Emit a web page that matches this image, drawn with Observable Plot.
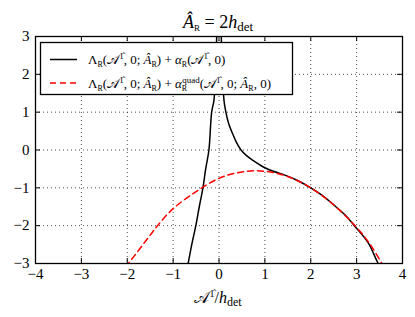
<!DOCTYPE html>
<html><head><meta charset="utf-8">
<script src="https://cdn.jsdelivr.net/npm/d3@7"></script>
<script src="https://cdn.jsdelivr.net/npm/@observablehq/plot@0.6"></script>
<style>body{margin:0;background:#fff}svg{display:block}</style>
</head><body><div id="chart"></div>
<script>
const xTicks = [-4,-3,-2,-1,0,1,2,3,4];
const yTicks = [-3,-2,-1,0,1,2,3];
// black curve, left branch (before the pole)
const blackLeftX = [-0.72,-0.673,-0.585,-0.505,-0.43,-0.35,-0.29,-0.22,-0.16,-0.11,-0.08,-0.05,-0.035];
const blackLeftY = [-3.3,-3,-2.45,-2,-1.5,-1,-0.5,0,1,1.31,2,3,3.6];
// black curve, right branch (after the pole)
const blackRightX = [0.035,0.05,0.07,0.11,0.15,0.21,0.29,0.38,0.48,0.6,0.76,1.0,1.2,1.41,1.7,2.0,2.25,2.5,2.75,2.95,3.25,3.47,3.55];
const blackRightY = [3.6,3,2.2,1.3,1.0,0.7,0.45,0.2,0,-0.15,-0.29,-0.47,-0.57,-0.65,-0.8,-1.0,-1.2,-1.45,-1.72,-2.0,-2.45,-3,-3.15];
// red dashed curve (quadratic approximation)
const redX = [-2.05,-1.98,-1.5,-1.34,-1,-0.5,0,0.4,0.8,1.2,1.6,2,2.5,3,3.3,3.55,3.6];
const redY = [-3.08,-3,-2.25,-2,-1.55,-1.1,-0.75,-0.6,-0.55,-0.6,-0.75,-1.0,-1.45,-2.05,-2.5,-3,-3.1];

const W = 415, H = 317, mL = 35, mR = 13, mT = 36, mB = 54;
const innerW = W - mL - mR, innerH = H - mT - mB;
const FONT = "'Liberation Serif', 'DejaVu Serif', serif";

const blackLeft = blackLeftX.map((x,i)=>({x, y: blackLeftY[i]}));
const blackRight = blackRightX.map((x,i)=>({x, y: blackRightY[i]}));
const red = redX.map((x,i)=>({x, y: redY[i]}));
const tk = 5;
const fmt = d3.format("d");

const svg = Plot.plot({
  width: W, height: H,
  marginLeft: mL, marginRight: mR, marginTop: mT, marginBottom: mB,
  style: {fontFamily: FONT, fontSize: "14px", background: "#fff", color: "#000"},
  x: {domain: [-4, 4], label: null},
  y: {domain: [-3, 3], label: null},
  marks: [
    Plot.gridX(xTicks, {stroke: "#000", strokeOpacity: 0.7, strokeDasharray: "1,3"}),
    Plot.gridY(yTicks, {stroke: "#000", strokeOpacity: 0.7, strokeDasharray: "1,3"}),
    Plot.line(blackLeft, {x: "x", y: "y", stroke: "#000", strokeWidth: 1.5, curve: "catmull-rom", clip: true}),
    Plot.line(blackRight, {x: "x", y: "y", stroke: "#000", strokeWidth: 1.5, curve: "catmull-rom", clip: true}),
    Plot.line(red, {x: "x", y: "y", stroke: "#ff0000", strokeWidth: 1.5, strokeDasharray: "6,4", curve: "catmull-rom", clip: true}),
    Plot.tickX(xTicks, {x: d => d, insetTop: innerH - tk, stroke: "#000"}),
    Plot.tickX(xTicks, {x: d => d, insetBottom: innerH - tk, stroke: "#000"}),
    Plot.tickY(yTicks, {y: d => d, insetRight: innerW - tk, stroke: "#000"}),
    Plot.tickY(yTicks, {y: d => d, insetLeft: innerW - tk, stroke: "#000"}),
    Plot.axisX({ticks: xTicks, tickSize: 0, tickPadding: 5, tickFormat: fmt, fontSize: 15}),
    Plot.axisY({ticks: yTicks, tickSize: 0, tickPadding: 6, tickFormat: fmt, fontSize: 15}),
    Plot.frame({stroke: "#000", strokeWidth: 1.3})
  ]
});
document.getElementById("chart").appendChild(svg);

const s = d3.select(svg);
s.style("font-family", FONT);
s.selectAll("text").style("font-family", FONT);
function rich(x, y, parts, size, anchor) {
  const t = s.append("text").attr("x", x).attr("y", y)
    .style("font-family", FONT).attr("font-size", size)
    .attr("text-anchor", anchor || "start").attr("fill", "#000");
  let cur = 0;
  for (const [str, o = {}] of parts) {
    const sh = o.sh || 0;
    const ts = t.append("tspan").text(str).attr("dy", -(sh - cur));
    cur = sh;
    if (o.i) ts.attr("font-style", "italic");
    if (o.fs) ts.attr("font-size", o.fs);
    if (o.dx) ts.attr("dx", o.dx);
  }
  return t;
}
// title
rich(218, 28, [["Â", {i: true}], ["R", {sh: -3, fs: 9}], [" = 2"], ["h", {i: true}], ["det", {sh: -3, fs: 13}]], 18, "middle");
// x label
rich(218, 303, [["𝒜"], ["1̂", {sh: 6, fs: 10}], ["/"], ["h", {i: true}], ["det", {sh: -3, fs: 12}]], 16, "middle");

// legend
const lg = s.append("g");
lg.append("rect").attr("x", 40.5).attr("y", 42.5).attr("width", 252).attr("height", 52)
  .attr("fill", "#fff").attr("stroke", "#000").attr("stroke-width", 1.3);
lg.append("line").attr("x1", 50).attr("x2", 77).attr("y1", 59.5).attr("y2", 59.5).attr("stroke", "#000").attr("stroke-width", 1.5);
lg.append("line").attr("x1", 50).attr("x2", 77).attr("y1", 83).attr("y2", 83).attr("stroke", "#ff0000").attr("stroke-width", 1.5).attr("stroke-dasharray", "6,4");
const sub = {sh: -3, fs: 8};
const sup = {sh: 5, fs: 9};
rich(88, 64, [["Λ"], ["R", sub], ["("], ["𝒜"], ["1̂", sup], [", 0; "], ["Â", {i: true}], ["R", sub], [") + "], ["α", {i: true}], ["R", sub], ["("], ["𝒜"], ["1̂", sup], [", 0)"]], 13);
rich(88, 88, [["Λ"], ["R", sub], ["("], ["𝒜"], ["1̂", sup], [", 0; "], ["Â", {i: true}], ["R", sub], [") + "], ["α", {i: true}], ["R", sub], ["quad", {sh: 5, fs: 9, dx: -5}], ["("], ["𝒜"], ["1̂", sup], [", 0; "], ["Â", {i: true}], ["R", sub], [", 0)"]], 13);
</script></body></html>
